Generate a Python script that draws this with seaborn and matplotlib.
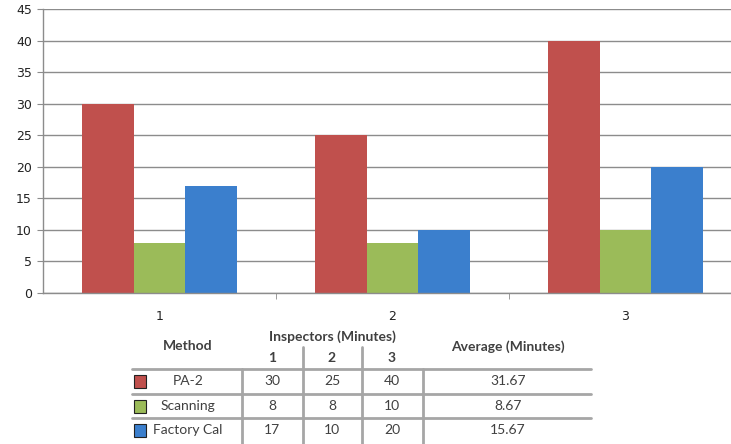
import matplotlib
matplotlib.use("Agg")
import numpy as np
import pandas as pd
import seaborn as sns
import matplotlib.pyplot as plt
from matplotlib.lines import Line2D
from matplotlib.patches import Rectangle

# data
inspectors = ["1", "2", "3"]
methods = ["PA-2", "Scanning", "Factory Cal"]
pa2 = [30, 25, 40]
scanning = [8, 8, 10]
factory_cal = [17, 10, 20]
averages = ["31.67", "8.67", "15.67"]
colors = ["#C0504D", "#9BBB59", "#3B7FCD"]

df = pd.DataFrame({
    "inspector": inspectors * 3,
    "method": [m for m in methods for _ in inspectors],
    "minutes": pa2 + scanning + factory_cal,
})

sns.set_style("white")
W, H = 731, 444
fig = plt.figure(figsize=(W / 100, H / 100), dpi=100)

# axes placed in pixel coords (left=43, top=9, bottom=293, right=742)
def px(x0, y0, x1, y1):
    return [x0 / W, 1 - y1 / H, (x1 - x0) / W, (y1 - y0) / H]

ax = fig.add_axes(px(43, 9, 742, 293))
sns.barplot(data=df, x="inspector", y="minutes", hue="method",
            palette=colors, width=0.665, gap=0, ax=ax, legend=False,
            edgecolor="none", saturation=1)

ax.set_ylim(0, 45)
ax.set_xlim(-0.5, 2.5)
ax.set_yticks(range(0, 46, 5))
ax.yaxis.grid(True, color="#8c8c8c", linewidth=1)
ax.set_axisbelow(True)
ax.set_xlabel("")
ax.set_ylabel("")
for s in ["top", "right"]:
    ax.spines[s].set_visible(False)
for s in ["left", "bottom"]:
    ax.spines[s].set_color("#8c8c8c")
    ax.spines[s].set_linewidth(1)

ax.set_xticks([0, 1, 2])
ax.set_xticklabels(inspectors)
ax.tick_params(axis="x", length=0, pad=12, labelsize=9, labelcolor="#222222")
ax.set_xticks([0.5, 1.5], minor=True)
ax.tick_params(axis="x", which="minor", length=4, color="#8c8c8c", direction="out", bottom=True)
ax.tick_params(axis="y", length=4, color="#8c8c8c", direction="out", left=True,
               labelsize=9, labelcolor="#222222", pad=4)

# data table under the chart
tfont = "Lato"
tcol = "#404040"

def ftxt(x, y, s, **kw):
    fig.text(x / W, 1 - y / H, s, ha="center", va="center", fontfamily=tfont,
             color=tcol, **kw)

def fline(x0, y0, x1, y1, lw=2):
    fig.add_artist(Line2D([x0 / W, x1 / W], [1 - y0 / H, 1 - y1 / H],
                          color="#a6a6a6", linewidth=lw, transform=fig.transFigure))

col_x = [272, 332, 392]
row_y = [381, 406, 430]

ftxt(188, 346, "Method", fontsize=10, fontweight="bold")
ftxt(332, 337, "Inspectors (Minutes)", fontsize=10, fontweight="bold")
for x, lab in zip(col_x, inspectors):
    ftxt(x, 358, lab, fontsize=10, fontweight="bold")
ftxt(508, 347, "Average (Minutes)", fontsize=10, fontweight="bold")

for y in [369, 394, 418]:
    fline(132, y, 591, y)
fline(242, 369, 242, 444)
fline(303, 347, 303, 444)
fline(362, 347, 362, 444)
fline(423, 369, 423, 444)

vals = [pa2, scanning, factory_cal]
for i, (m, y) in enumerate(zip(methods, row_y)):
    fig.add_artist(Rectangle((134 / W, 1 - (y + 6.5) / H), 12 / W, 13 / H,
                             facecolor=colors[i], edgecolor="#222222",
                             linewidth=0.8, transform=fig.transFigure))
    ftxt(188, y, m, fontsize=10)
    for x, v in zip(col_x, vals[i]):
        ftxt(x, y, str(v), fontsize=10)
    ftxt(508, y, averages[i], fontsize=10)

fig.savefig("out.png", dpi=100)
